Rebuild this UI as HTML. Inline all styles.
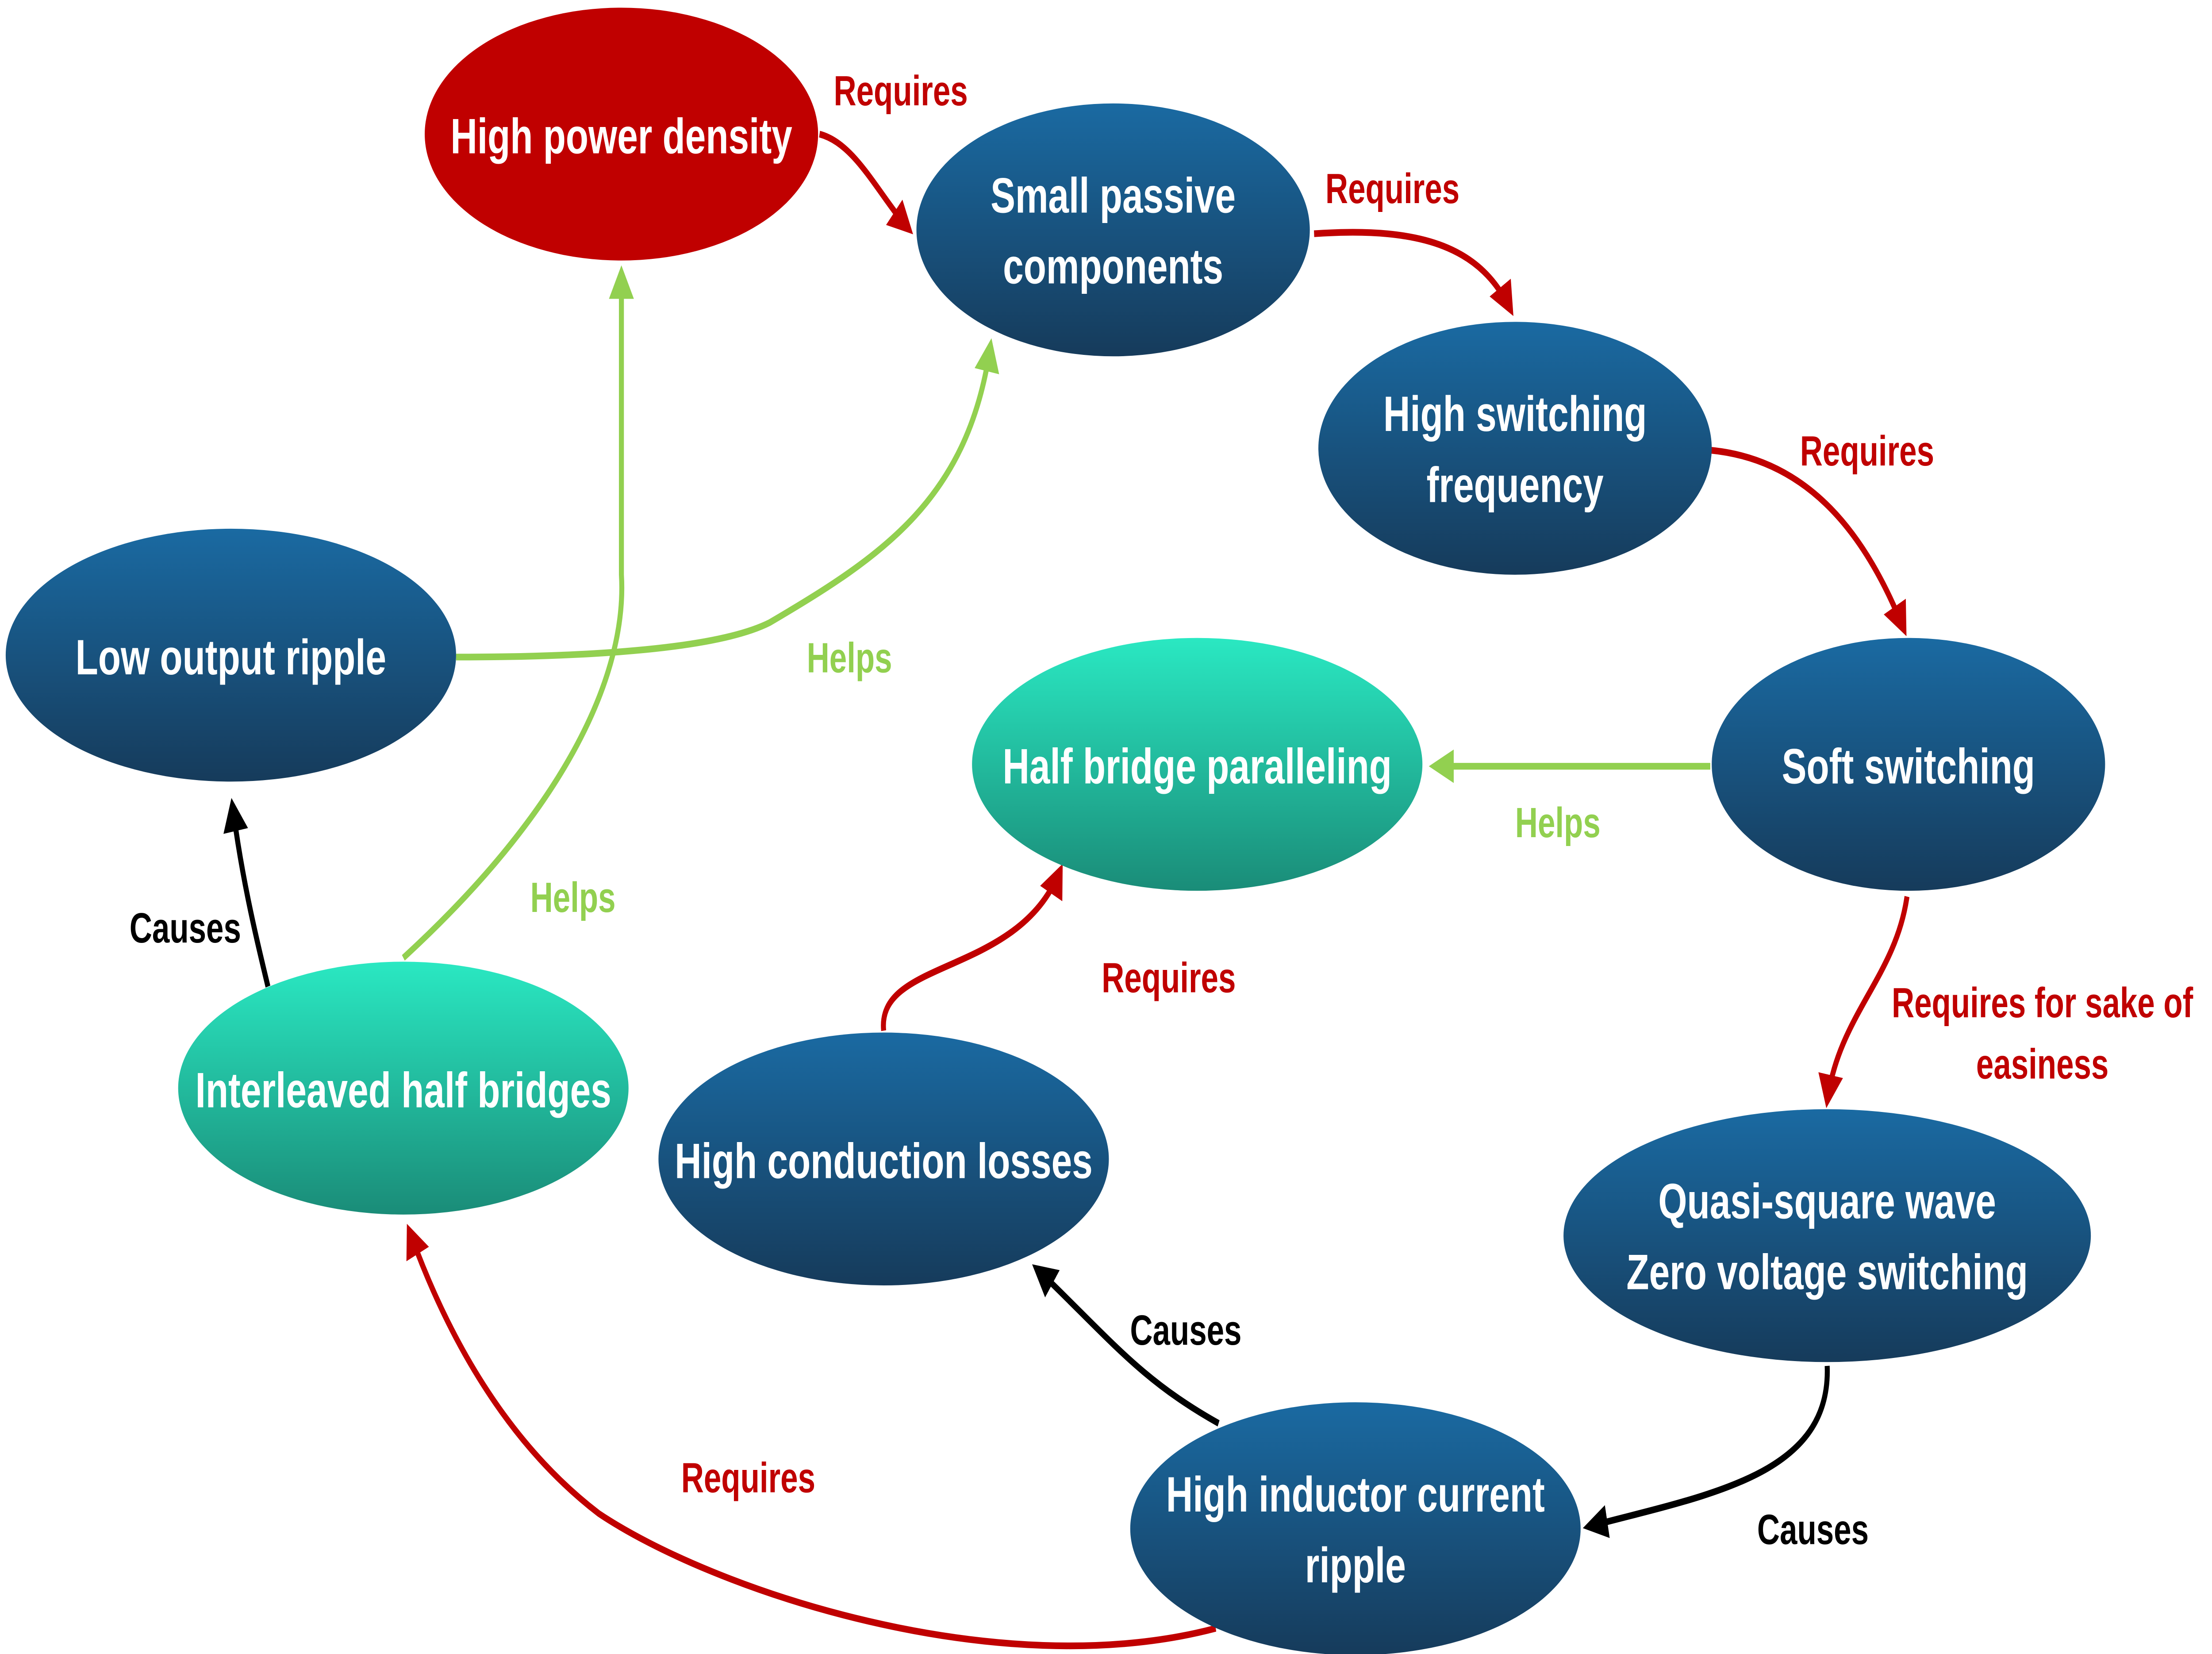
<!DOCTYPE html>
<html><head><meta charset="utf-8"><style>
html,body{margin:0;padding:0;background:#fff;width:100%;height:100%;overflow:hidden;}
svg{display:block;width:100vw;height:100vh;}
text{font-family:"Liberation Sans",sans-serif;font-weight:bold;}
.n{fill:#fff;font-size:26px;text-anchor:middle;}
.l{font-size:22px;text-anchor:middle;}
</style></head><body>
<svg viewBox="0 0 1552 863.4" preserveAspectRatio="none" xmlns="http://www.w3.org/2000/svg">
<defs>
<linearGradient id="b" x1="0" y1="0" x2="0" y2="1"><stop offset="0" stop-color="#1a6aa2"/><stop offset="1" stop-color="#163b5b"/></linearGradient>
<linearGradient id="t" x1="0" y1="0" x2="0" y2="1"><stop offset="0" stop-color="#2ae8c2"/><stop offset="1" stop-color="#1a8c78"/></linearGradient>
<marker id="ar" viewBox="0 0 10 10" refX="8" refY="5" markerWidth="5" markerHeight="5" orient="auto"><path d="M0,0L10,5L0,10z" fill="#c00000"/></marker>
<marker id="ag" viewBox="0 0 10 10" refX="8" refY="5" markerWidth="5" markerHeight="5" orient="auto"><path d="M0,0L10,5L0,10z" fill="#92d050"/></marker>
<marker id="ak" viewBox="0 0 10 10" refX="8" refY="5" markerWidth="5" markerHeight="5" orient="auto"><path d="M0,0L10,5L0,10z" fill="#000"/></marker>
</defs>
<g fill="none" stroke-width="3.5">
<path d="M575,70 C600,75 615,100 638,120" stroke="#c00000" marker-end="url(#ar)"/>
<path d="M922,122 C1000,118 1040,130 1060,162" stroke="#c00000" marker-end="url(#ar)"/>
<path d="M1200,235 C1270,240 1310,280 1336,329" stroke="#c00000" marker-end="url(#ar)"/>
<path d="M1200,400 L1006,400" stroke="#92d050" marker-end="url(#ag)"/>
<path d="M1338,468 C1330,510 1290,530 1282,575" stroke="#c00000" marker-end="url(#ar)"/>
<path d="M1282,713 C1285,770 1200,780 1114,797" stroke="#000" marker-end="url(#ak)"/>
<path d="M855,743 C800,720 780,700 727,662" stroke="#000" marker-end="url(#ak)"/>
<path d="M853,850 C700,880 500,830 420,790 C350,750 310,690 287,642" stroke="#c00000" marker-end="url(#ar)"/>
<path d="M620,538 C615,500 715,510 744,454" stroke="#c00000" marker-end="url(#ar)"/>
<path d="M188,515 C180,490 170,460 163,420" stroke="#000" marker-end="url(#ak)"/>
<path d="M283,500 C400,420 440,350 436,300 L436,142" stroke="#92d050" marker-end="url(#ag)"/>
<path d="M320,343 C400,343 500,340 540,325 C620,290 680,260 695,180" stroke="#92d050" marker-end="url(#ag)"/>
</g>
<ellipse cx="436" cy="70" rx="138" ry="66" fill="#c00000"/>
<ellipse cx="781" cy="120" rx="138" ry="66" fill="url(#b)"/>
<ellipse cx="1063" cy="234" rx="138" ry="66" fill="url(#b)"/>
<ellipse cx="162" cy="342" rx="158" ry="66" fill="url(#b)"/>
<ellipse cx="840" cy="399" rx="158" ry="66" fill="url(#t)"/>
<ellipse cx="1339" cy="399" rx="138" ry="66" fill="url(#b)"/>
<ellipse cx="283" cy="568" rx="158" ry="66" fill="url(#t)"/>
<ellipse cx="620" cy="605" rx="158" ry="66" fill="url(#b)"/>
<ellipse cx="1282" cy="645" rx="185" ry="66" fill="url(#b)"/>
<ellipse cx="951" cy="798" rx="158" ry="66" fill="url(#b)"/>
<text class="n" x="436" y="80">High power density</text>
<text class="n" x="781" y="111">Small passive</text><text class="n" x="781" y="148">components</text>
<text class="n" x="1063" y="225">High switching</text><text class="n" x="1063" y="262">frequency</text>
<text class="n" x="162" y="352">Low output ripple</text>
<text class="n" x="840" y="409">Half bridge paralleling</text>
<text class="n" x="1339" y="409">Soft switching</text>
<text class="n" x="283" y="578">Interleaved half bridges</text>
<text class="n" x="620" y="615">High conduction losses</text>
<text class="n" x="1282" y="636">Quasi-square wave</text><text class="n" x="1282" y="673">Zero voltage switching</text>
<text class="n" x="951" y="789">High inductor current</text><text class="n" x="951" y="826">ripple</text>
<g fill="#c00000">
<text class="l" x="632" y="55">Requires</text>
<text class="l" x="977" y="106">Requires</text>
<text class="l" x="1310" y="243">Requires</text>
<text class="l" x="1433" y="531">Requires for sake of</text>
<text class="l" x="1433" y="563">easiness</text>
<text class="l" x="525" y="779">Requires</text>
<text class="l" x="820" y="518">Requires</text>
</g>
<g fill="#92d050">
<text class="l" x="1093" y="437">Helps</text>
<text class="l" x="402" y="476">Helps</text>
<text class="l" x="596" y="351">Helps</text>
</g>
<g fill="#000">
<text class="l" x="1272" y="806">Causes</text>
<text class="l" x="832" y="702">Causes</text>
<text class="l" x="130" y="492">Causes</text>
</g>
</svg>
</body></html>
